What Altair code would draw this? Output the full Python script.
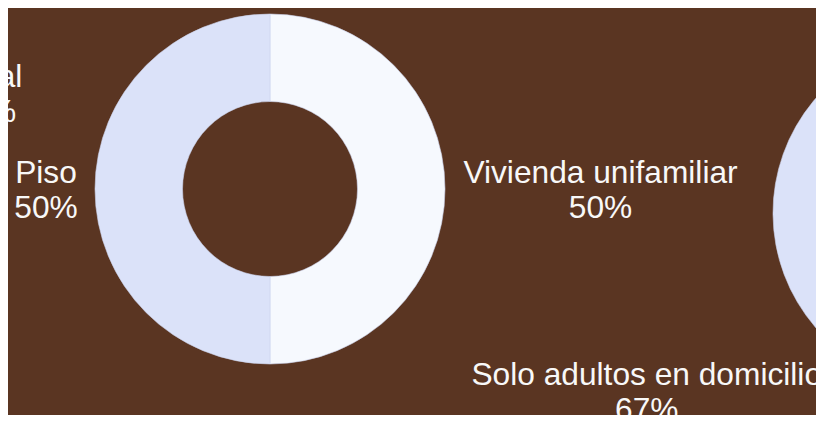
import altair as alt
import pandas as pd

# ---- data ----
d0_cat = ["Rural", "Urbano"]
d0_pct = [37, 63]
d1_cat = ["Vivienda unifamiliar", "Piso"]
d1_pct = [50, 50]
d2_cat = ["Con menores en domicilio", "Solo adultos en domicilio"]
d2_pct = [33, 67]

BG = "#5a3522"
COLORS = ["#f6f9fe", "#dbe2f9"]
TXT = "#f8f8f8"


def donut(cats, pcts, cx, cy, label_r):
    df = pd.DataFrame({"cat": cats, "pct": pcts, "slot": list(range(len(cats)))})
    base = alt.Chart(df).transform_calculate(
        lbl="datum.cat + '\\n' + datum.pct + '%'"
    )
    arc = base.mark_arc(
        outerRadius=175, innerRadius=87.5, stroke="#cdd4ec", strokeWidth=0.6
    ).encode(
        theta=alt.Theta("pct:Q", stack=True),
        order=alt.Order("slot:O"),
        color=alt.Color(
            "slot:N", scale=alt.Scale(domain=[0, 1], range=COLORS), legend=None
        ),
        x=alt.value(cx),
        y=alt.value(cy),
    )
    layers = [arc]
    for cat, r in label_r.items():
        t = base.mark_text(
            fontSize=31.7,
            font="Liberation Sans",
            color=TXT,
            lineBreak="\n",
            lineHeight=35,
            align="center",
            baseline="middle",
            dy=-16,
        ).encode(
            theta=alt.Theta("pct:Q", stack=True),
            order=alt.Order("slot:O"),
            radius=alt.value(r),
            text=alt.condition(alt.datum.cat == cat, alt.Text("lbl:N"), alt.value("")),
            x=alt.value(cx),
            y=alt.value(cy),
        )
        layers.append(t)
    return layers


# centres are in chart pixels (page minus the 8px margin)
layers = []
layers += donut(d0_cat, d0_pct, -235, 177, {"Rural": 230.5})
layers += donut(d1_cat, d1_pct, 262, 181, {"Vivienda unifamiliar": 330.5, "Piso": 224})
layers += donut(d2_cat, d2_pct, 940, 205, {"Solo adultos en domicilio": 350})

chart = alt.layer(*layers).properties(
    width=808,
    height=407,
    autosize=alt.AutoSizeParams(type="none"),
    padding=0,
    background=BG,
).configure_view(stroke=None)

chart.save("out.html", embed_options={"renderer": "svg", "actions": False})
